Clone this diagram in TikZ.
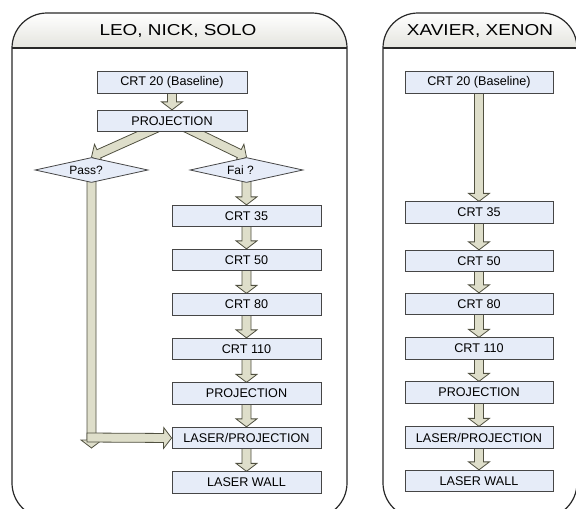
\documentclass[tikz,border=0pt]{standalone}
\usepackage{fontspec}
\setmainfont{Liberation Sans}
\usetikzlibrary{calc,shapes.geometric}
\pgfdeclarelayer{bg}
\pgfsetlayers{bg,main}
\definecolor{boxfill}{RGB}{230,236,248}
\definecolor{boxline}{RGB}{70,70,70}
\definecolor{arrfill}{RGB}{222,222,202}
\definecolor{arrline}{RGB}{80,80,64}
\definecolor{hdrgrey}{RGB}{228,228,222}
\definecolor{panelline}{RGB}{40,40,40}
\tikzset{
  stepbox/.style={draw=boxline, fill=boxfill, line width=0.8pt, minimum height=21.5pt,
    inner sep=0pt, font=\fontsize{12.6}{14}\selectfont},
  lbox/.style={stepbox, minimum width=150pt},
  rbox/.style={stepbox, minimum width=149pt},
  xbox/.style={stepbox, minimum width=148pt},
  decision/.style={diamond, shape aspect=4.5, draw=boxline, fill=boxfill, line width=0.8pt,
    minimum width=113pt, minimum height=25pt, inner sep=0pt, font=\fontsize{12}{14}\selectfont},
  barrow/.style={fill=arrfill, draw=arrline, line width=0.8pt, line join=miter},
  panel/.style={draw=panelline, line width=1.2pt, rounded corners=35pt},
  hdrtext/.style={anchor=base, font=\fontsize{15.8}{18}\selectfont},
}
\newcommand\BArrow[2]{%
  \coordinate (bah) at ($(#2)!8pt!(#1)$);
  \filldraw[barrow] ($(#1)!4.5pt!90:(#2)$) -- ($(bah)!4.5pt!-90:(#1)$) -- ($(bah)!10.5pt!-90:(#1)$)
    -- (#2) -- ($(bah)!10.5pt!90:(#1)$) -- ($(bah)!4.5pt!90:(#1)$) -- ($(#1)!4.5pt!-90:(#2)$) -- cycle;}
\begin{document}
\begin{tikzpicture}[x=1pt,y=-1pt]
\useasboundingbox (0,0) rectangle (576,509);
\clip (0,0) rectangle (576,509);
% panels
\begin{scope}
  \clip[rounded corners=35pt] (12,13) rectangle (347,518);
  \shade[top color=white, bottom color=hdrgrey] (12,13) rectangle (347,48);
\end{scope}
\begin{scope}
  \clip[rounded corners=35pt] (383,13) rectangle (577,518);
  \shade[top color=white, bottom color=hdrgrey] (383,13) rectangle (577,48);
\end{scope}
\draw[panel] (12,13) rectangle (347,518);
\draw[panel] (383,13) rectangle (577,518);
\draw[panelline, line width=1.6pt] (12,48) -- (347,48);
\draw[panelline, line width=1.6pt] (383,48) -- (577,48);
\node[hdrtext] (hL) at (178,35.7) {\scalebox{1.2}[1]{LEO, NICK, SOLO}};
\node[hdrtext] (hR) at (480,35.7) {\scalebox{1.2}[1]{XAVIER, XENON}};
% left panel
\node[lbox] (a20) at (172,82.5) {CRT 20 (Baseline)};
\node[lbox] (aproj) at (172,121) {PROJECTION};
\node[decision] (pass) at (91.5,170) {Pass?\hspace*{11pt}};
\node[decision] (fail) at (246.5,170) {Fai ?\hspace*{12pt}};
\node[rbox] (b35) at (246.5,216) {CRT 35};
\node[rbox] (b50) at (246.5,260) {CRT 50};
\node[rbox] (b80) at (246.5,304.5) {CRT 80};
\node[rbox] (b110) at (246.5,349) {CRT 110};
\node[rbox] (bproj) at (246.5,393.5) {PROJECTION};
\node[rbox] (blp) at (246.5,438) {LASER/PROJECTION};
\node[rbox] (blw) at (246.5,482.5) {LASER WALL};
\coordinate (passend) at (91.5,448);
\coordinate (passturn) at (87,437.5);
% right panel
\node[xbox] (r20) at (479,82.5) {CRT 20 (Baseline)};
\node[xbox] (r35) at (479,212.5) {CRT 35};
\node[xbox] (r50) at (479,261) {CRT 50};
\node[xbox] (r80) at (479,304) {CRT 80};
\node[xbox] (r110) at (479,348.5) {CRT 110};
\node[xbox] (rproj) at (479,392.5) {PROJECTION};
\node[xbox] (rlp) at (479,437.5) {LASER/PROJECTION};
\node[xbox] (rlw) at (479,481) {LASER WALL};
\begin{pgfonlayer}{bg}
  \BArrow{a20.center}{aproj.north}
  \BArrow{aproj.center}{pass.north}
  \BArrow{aproj.center}{fail.north}
  \BArrow{fail.center}{b35.north}
  \BArrow{b35.center}{b50.north}
  \BArrow{b50.center}{b80.north}
  \BArrow{b80.center}{b110.north}
  \BArrow{b110.center}{bproj.north}
  \BArrow{bproj.center}{blp.north}
  \BArrow{blp.center}{blw.north}
  \BArrow{pass.center}{passend}
  \BArrow{passturn}{blp.west}
  \BArrow{r20.center}{r35.north}
  \BArrow{r35.center}{r50.north}
  \BArrow{r50.center}{r80.north}
  \BArrow{r80.center}{r110.north}
  \BArrow{r110.center}{rproj.north}
  \BArrow{rproj.center}{rlp.north}
  \BArrow{rlp.center}{rlw.north}
\end{pgfonlayer}
\end{tikzpicture}
\end{document}
